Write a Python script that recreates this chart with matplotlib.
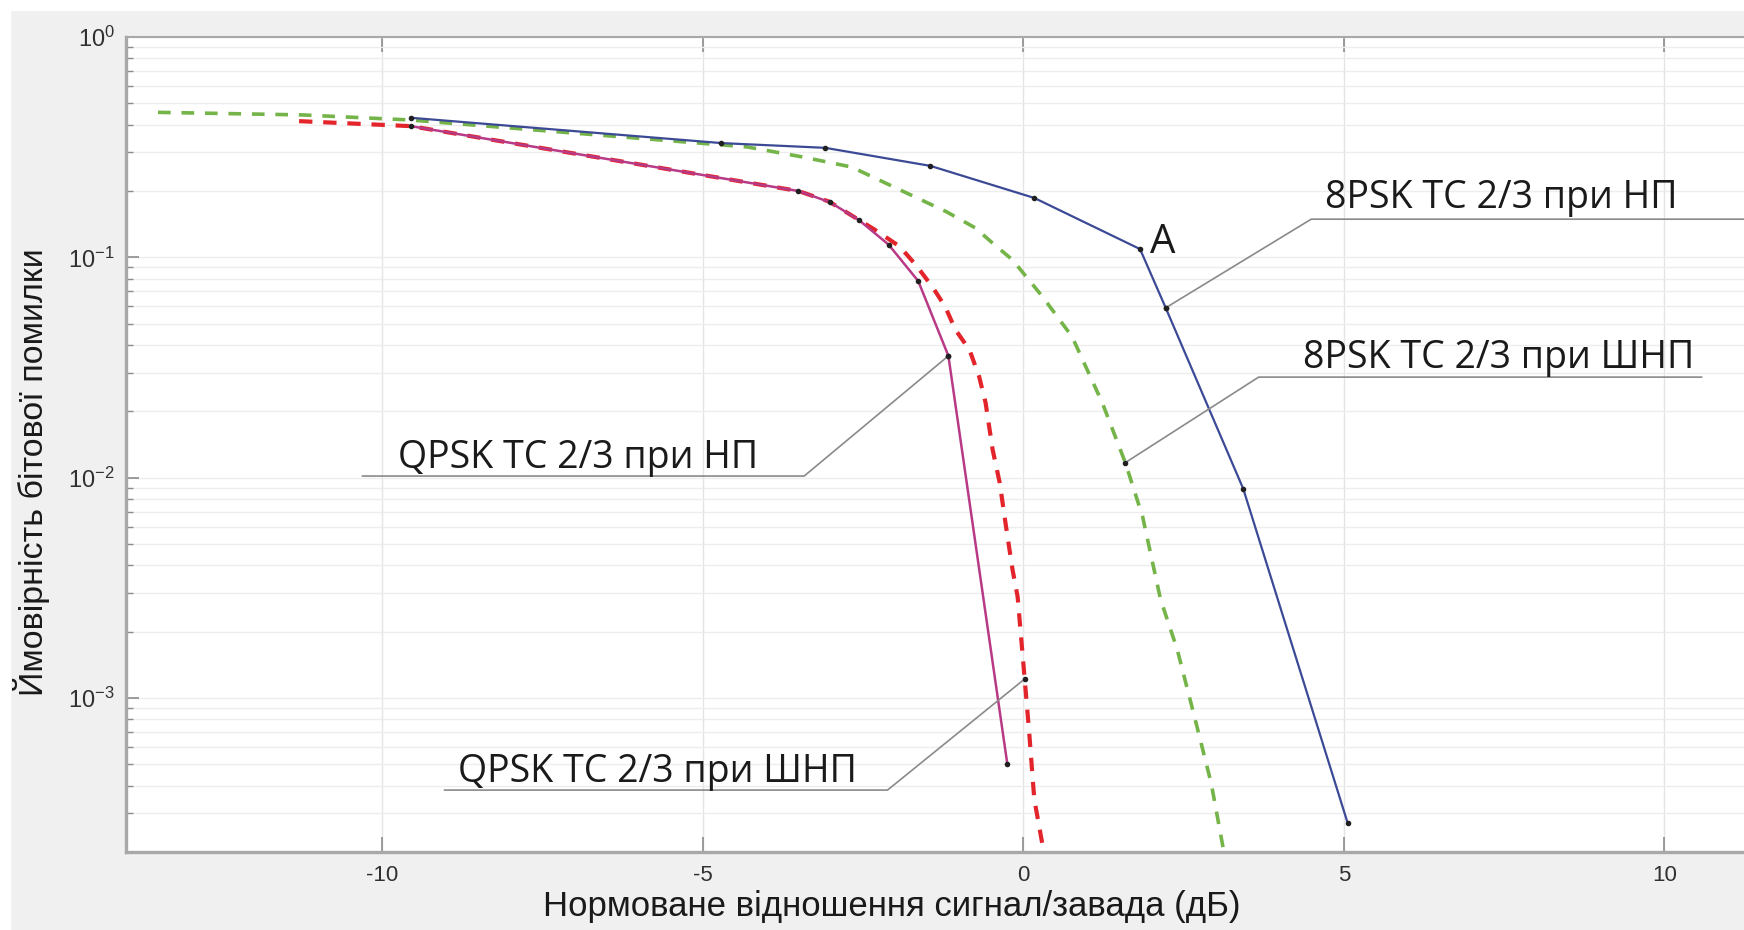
import numpy as np
import matplotlib
matplotlib.use('Agg')
import matplotlib.pyplot as plt
from matplotlib.patches import Rectangle
from matplotlib.ticker import LogLocator, LogFormatterSciNotation, NullFormatter

plt.rcParams['font.family'] = ['Liberation Sans', 'DejaVu Sans']
plt.rcParams['mathtext.default'] = 'regular'
plt.rcParams['axes.unicode_minus'] = False

# ── Data ──────────────────────────────────────────────────────────────────────
# 8PSK TC 2/3, narrowband jamming (НП) — solid navy with markers
psk8_np_x = [-9.56, -4.71, -3.09, -1.45, 0.17, 1.82, 2.22, 3.43, 5.06]
psk8_np_y = [0.43, 0.33, 0.314, 0.26, 0.186, 0.109, 0.059, 0.0089, 2.7e-4]

# QPSK TC 2/3, narrowband jamming (НП) — solid magenta with markers
qpsk_np_x = [-9.56, -3.51, -3.02, -2.57, -2.10, -1.64, -1.17, -0.25]
qpsk_np_y = [0.394, 0.20, 0.178, 0.148, 0.114, 0.078, 0.0357, 5.0e-4]

# QPSK TC 2/3, wideband jamming (ШНП) — red dashed
qpsk_wnp_x = [-11.3, -9.56, -3.51, -3.03, -2.31, -1.93, -1.68, -1.42, -1.22, -1.06,
              -0.84, -0.69, -0.59, -0.48, -0.37, -0.28, -0.17, -0.09, 0.02, 0.09,
              0.17, 0.31]
qpsk_wnp_y = [0.415, 0.394, 0.20, 0.179, 0.133, 0.112, 0.0925, 0.0735, 0.0597, 0.0469,
              0.038, 0.0287, 0.0219, 0.0134, 0.0095, 0.00625, 0.00383, 0.00288, 0.00122,
              7.0e-4, 3.47e-4, 2.06e-4]

# 8PSK TC 2/3, wideband jamming (ШНП) — green dashed
psk8_wnp_x = [-13.5, -11.25, -9.56, -4.31, -3.46, -2.68, -1.92, -1.20, -0.75, -0.48,
              -0.17, 0.30, 0.76, 1.23, 1.59, 1.86, 2.14, 2.40, 2.67, 2.93, 3.12]
psk8_wnp_y = [0.455, 0.443, 0.42, 0.317, 0.286, 0.257, 0.202, 0.161, 0.136, 0.116,
              0.0974, 0.0662, 0.0436, 0.0219, 0.0117, 0.00665, 0.0028, 0.00166, 8.2e-4,
              4.1e-4, 2.06e-4]

x_ticks = [-10, -5, 0, 5, 10]

# callouts: label, (curve x, curve y, point index), elbow, underline far end x, text anchor
labels = ['8PSK TC 2/3 при НП', '8PSK TC 2/3 при ШНП',
          'QPSK TC 2/3 при НП', 'QPSK TC 2/3 при ШНП']
targets = [(psk8_np_x, psk8_np_y, 6), (psk8_wnp_x, psk8_wnp_y, 14),
           (qpsk_np_x, qpsk_np_y, 6), (qpsk_wnp_x, qpsk_wnp_y, 18)]
elbows = [(4.49, 0.149), (3.67, 0.0286), (-3.42, 0.01017), (-2.12, 3.82e-4)]
line_ends = [11.4, 10.58, -10.31, -9.03]
text_pos = [(7.46, 0.1675), (7.41, 0.0314), (-6.94, 0.01106), (-5.71, 4.15e-4)]

# ── Figure ─────────────────────────────────────────────────────────────────────
W, H = 1744, 930
fig = plt.figure(figsize=(W / 100, H / 100), dpi=100, facecolor='#f0f0f0')
fig.patches.append(Rectangle((0, 1 - 10 / H), 1, 10 / H, transform=fig.transFigure,
                             color='white', zorder=0))
fig.patches.append(Rectangle((0, 0), 10 / W, 1, transform=fig.transFigure,
                             color='white', zorder=0))

ax = fig.add_axes([126 / W, 78 / H, 1623 / W, 815 / H])
ax.set_facecolor('white')

ax.plot(psk8_wnp_x, psk8_wnp_y, color='#74b448', lw=2.6, ls=(0, (3.5, 3)), zorder=3)
ax.plot(qpsk_wnp_x, qpsk_wnp_y, color='#e3242b', lw=3.0, ls=(0, (3.2, 2.6)), zorder=3)
ax.plot(qpsk_np_x, qpsk_np_y, color='#b83a86', lw=1.8, marker='.', ms=6,
        mfc='#202020', mec='#202020', zorder=4)
ax.plot(psk8_np_x, psk8_np_y, color='#3c4a96', lw=1.6, marker='.', ms=6,
        mfc='#202020', mec='#202020', zorder=4)

# callout leaders
for lab, (cx, cy, i), (ex, ey), x_end, (tx, ty) in zip(labels, targets, elbows,
                                                        line_ends, text_pos):
    ax.plot([x_end, ex, cx[i]], [ey, ey, cy[i]], color='#8a8a8a', lw=1.2, zorder=5)
    ax.plot(cx[i], cy[i], marker='.', ms=6, color='#202020', zorder=6)
    ax.text(tx, ty, lab, ha='center', va='baseline', fontsize=27,
            family=['Open Sans', 'DejaVu Sans'], color='#1a1a1a', zorder=6)

ax.text(2.18, 0.116, 'A', ha='center', va='center', fontsize=29,
        family=['Open Sans', 'DejaVu Sans'], color='#1a1a1a', zorder=6)

# axes
ax.set_yscale('log')
ax.set_xlim(-14, 11.32)
ax.set_ylim(2.0e-4, 1.0)
ax.set_xticks(x_ticks)
ax.yaxis.set_major_locator(LogLocator(base=10, numticks=10))
ax.yaxis.set_minor_locator(LogLocator(base=10, subs=np.arange(2, 10), numticks=20))
ax.yaxis.set_major_formatter(LogFormatterSciNotation())
ax.yaxis.set_minor_formatter(NullFormatter())

ax.grid(True, which='major', axis='x', color='#e4e4e4', lw=1.0)
ax.grid(True, which='both', axis='y', color='#ededed', lw=1.0)
ax.set_axisbelow(True)

ax.tick_params(axis='both', which='both', direction='in', colors='#8c8c8c',
               labelcolor='#303030')
ax.tick_params(axis='x', which='major', length=11, width=1.2, top=True, pad=9,
               labelsize=16)
ax.tick_params(axis='y', which='major', length=9, width=1.2, pad=8, labelsize=17)
ax.tick_params(axis='y', which='minor', length=5, width=1.0)

for side in ['left', 'bottom']:
    ax.spines[side].set_color('#a8a8a8')
    ax.spines[side].set_linewidth(2.4)
ax.spines['top'].set_color('#a8a8a8')
ax.spines['top'].set_linewidth(1.5)
ax.spines['right'].set_visible(False)

ax.set_xlabel('Нормоване відношення сигнал/завада (дБ)', fontsize=25, color='#1a1a1a')
ax.xaxis.set_label_coords(0.472, -0.0663)
ax.xaxis.label.set_va('center')
ax.set_ylabel('Ймовірність бітової помилки', fontsize=24.5, color='#1a1a1a')
ax.yaxis.set_label_coords(-0.0585, 0.466)
ax.yaxis.label.set_va('center')

fig.savefig('out.png', dpi=100, facecolor=fig.get_facecolor())
